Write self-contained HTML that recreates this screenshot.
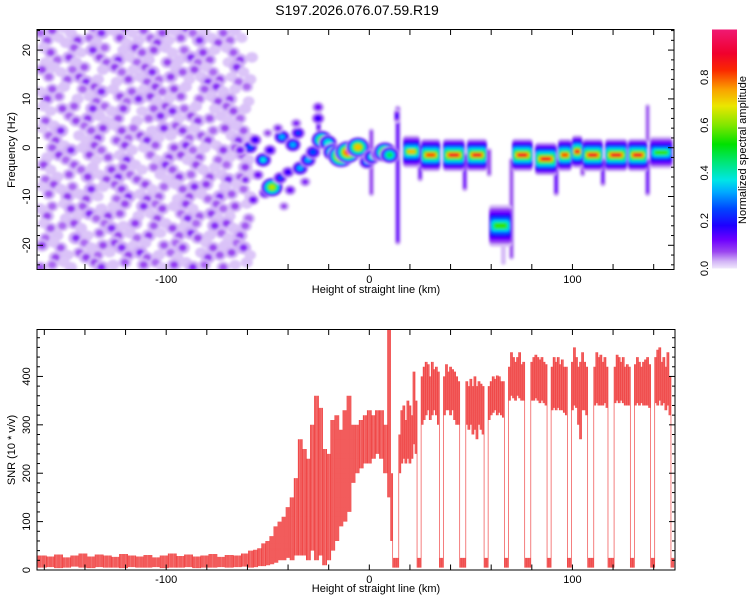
<!DOCTYPE html>
<html><head><meta charset="utf-8"><style>
html,body{margin:0;padding:0;background:#fff;}
svg{display:block;font-family:"Liberation Sans",sans-serif;}
</style></head><body>
<svg id="fig" width="750" height="600" viewBox="0 0 750 600" xmlns="http://www.w3.org/2000/svg">
<defs>
<filter id="soft" x="-20%" y="-20%" width="140%" height="140%"><feGaussianBlur stdDeviation="1.2"/></filter>
<filter id="soft2" x="-20%" y="-20%" width="140%" height="140%"><feGaussianBlur stdDeviation="1.4"/></filter>
<clipPath id="clipTop"><rect x="37" y="29.5" width="637" height="240"/></clipPath>
<clipPath id="clipBot"><rect x="37" y="329.5" width="638" height="240.5"/></clipPath>
<linearGradient id="cbGrad" x1="0" y1="1" x2="0" y2="0"></linearGradient>
</defs>
<rect x="0" y="0" width="750" height="600" fill="#fff"/>
<text x="357" y="15" font-size="14" text-anchor="middle">S197.2026.076.07.59.R19</text>
<g id="topPlot">
  <g id="heat" clip-path="url(#clipTop)"></g>
  <rect x="37" y="29.5" width="637" height="240" fill="none" stroke="#000" stroke-width="1"/>
  <g id="topAxes"></g>
  <text x="376" y="293" font-size="11" text-anchor="middle">Height of straight line (km)</text>
  <text transform="translate(15,150) rotate(-90)" font-size="11" text-anchor="middle">Frequency (Hz)</text>
</g>
<g id="colorbar">
  <rect x="712" y="29.5" width="25" height="239" fill="url(#cbGrad)"/>
  <g id="cbTicks"></g>
  <text transform="translate(746,150) rotate(-90)" font-size="11" text-anchor="middle">Normalized spectral amplitude</text>
</g>
<g id="botPlot">
  <g clip-path="url(#clipBot)"><path id="snrLine" fill="none" stroke="#ee3535" stroke-width="0.7" stroke-opacity="0.9"/></g>
  <rect x="37" y="329.5" width="638" height="240.5" fill="none" stroke="#000" stroke-width="1"/>
  <g id="botAxes"></g>
  <text x="376" y="592" font-size="11" text-anchor="middle">Height of straight line (km)</text>
  <text transform="translate(15,450) rotate(-90)" font-size="11" text-anchor="middle">SNR (10 * v/v)</text>
</g>
</svg>
<script>
// ---------- data ----------
const xTickKm=[-160,-140,-120,-100,-80,-60,-40,-20,0,20,40,60,80,100,120,140];
const xTickLabels=["-100","0","100"];
const xTickLabelKm=[-100,0,100];
const freqTickLabels=["20","10","0","-10","-20"];
const freqTickVals=[20,10,0,-10,-20];
const snrTickLabels=["0","100","200","300","400"];
const snrTickVals=[0,100,200,300,400];
const cbTickLabels=["0.0","0.2","0.4","0.6","0.8"];
const cbTickVals=[0,0.2,0.4,0.6,0.8];

// noise field (left region), rows = frequency 24..-24 step 2, cols = km step 5 from -161.1
const noiseRows=[
"351205723140526310420","412632051236140725310","250417302645213061240","136205471320527340162",
"521340263157024513071","304672015243601275132","142035720416352047213","630214053762140325601",
"215407326014573201452","403562140237015642130","127034615302746103524","350216043571203460271",
"041725306214057321640","263051427031652403152","510432065213740521306","324061573402163052741",
"152307246051324760213","406251037264015237402","231640215073526104351","502173640215037462103",
"143520371604251307624","320714052361047523160","614032567120436015237","052463105742310264501",
"431205724053162730412"];

// discrete blobs (km, Hz, amplitude)
const blobKm  =[-57.2,-51.3,-47.9,-43.9,-40,-34.1,-30.2,-27.7,-23.3,-20.3,-17.9,-13.9,-10.5,-5.6,-1.1,1.3,4.5,7.7,10,-58.7,-56.2,-52.3,-48.9,-43,-37.6,-35.1,-25.2,-25.2,-61,-54.8,-63.6,-39,-31.6,-45,-36,-50,-42];
const blobFreq=[-10.7,-9.3,-8.1,-6.2,-5,-4.2,-2.5,-0.9,1.6,1.0,-0.9,-1.7,-0.9,0.1,-2.9,-1.9,-1.4,-0.9,-1.5,0.1,1.6,-2.5,-0.5,2.2,0.6,3,8.3,6,-6.6,-5.6,-0.5,-8.7,-7,4,5,3,-12];
const blobAmp =[0.15,0.2,0.65,0.25,0.2,0.35,0.35,0.3,0.62,0.45,0.55,0.88,0.85,0.72,0.35,0.4,0.3,0.7,0.5,0.3,0.2,0.38,0.2,0.35,0.35,0.25,0.15,0.2,0.12,0.15,0.15,0.15,0.12,0.12,0.12,0.1,0.1];

// ridge segments
const segStart=[16.5,25.4,36.2,48,58.9,70.2,81.5,92.8,99.7,105,116,127.3,138];
const segEnd  =[25,35,47,58,70.2,80.5,92.3,99.7,105,115,127,137,149.4];
const segFreq =[-0.8,-1.5,-1.5,-1.5,-16,-1.5,-2.3,-1.5,-0.8,-1.5,-1.5,-1.5,-1];
const segPeak =[0.72,0.85,0.9,0.88,0.6,0.9,0.9,0.85,0.9,0.9,0.9,0.9,0.6];

// vertical streaks
const streakKm =[14,13.6,25,47,59,70,92,105,115,137,137,1,-25,66];
const streakTop=[8.7,8,1,-1,0,-2,-2,0,-2,-2,9,4,9,-19];
const streakBot=[-20,5,-7,-9,-6,-23,-10,-6,-8,-10,1,-10,3,-24];
const streakAmp=[0.14,0.22,0.12,0.12,0.1,0.09,0.14,0.1,0.12,0.12,0.08,0.1,0.15,0.06];

// SNR bins
const snrKm=[-161,-157,-153,-149,-145,-141,-137,-133,-129,-125,-121,-117,-113,-109,-105,-101,-97,-93,-89,-85,-81,-77,-73,-69,-65,-61,
-58,-56,-54,-52,-50,-48,-46,-44,-42,-40,-38,-36,-34,-32,-30,-28,-26,-24,-22,-20,-18,-16,-14,-12,-10,-8,-6,-4,-2,0,2,4,6,8,
10,11,12,13,14,15,16,17,18,19,20,21,22,23,24,25,26,27,28,29,30,31,32,33,34,35,36,37,38,39,40,41,42,43,44,45,46,47,48,49,50,51,52,53,54,55,56,57,58,59,60,61,62,63,64,65,66,67,68,69,70,71,72,73,74,75,76,77,78,79,80,81,82,83,84,85,86,87,88,89,90,91,92,93,94,95,96,97,98,99,100,101,102,103,104,105,106,107,108,109,110,111,112,113,114,115,116,117,118,119,120,121,122,123,124,125,126,127,128,129,130,131,132,133,134,135,136,137,138,139,140,141,142,143,144,145,146,147,148,149];
const snrHi=[30,28,32,26,30,34,28,32,30,27,33,30,28,31,26,30,34,29,32,28,30,33,27,31,30,34,
40,42,45,55,60,70,90,100,110,130,150,190,270,250,230,300,360,335,250,240,310,320,290,330,360,300,300,310,320,330,320,330,330,300,
497,200,25,25,25,280,330,340,310,350,340,320,410,350,25,25,400,420,430,425,400,430,415,420,410,25,25,400,425,410,420,415,410,400,390,25,25,25,390,380,395,380,400,380,390,385,380,25,25,380,390,400,395,402,400,390,390,25,25,420,450,440,430,440,450,425,430,25,25,25,430,440,445,440,435,440,430,425,25,25,420,440,430,440,425,435,420,420,25,25,430,460,440,420,430,450,430,420,25,25,25,420,450,440,445,430,440,420,25,25,25,420,445,440,430,440,420,425,420,25,25,425,440,430,420,430,435,440,425,25,25,440,455,460,430,440,420,450,400,25];
const snrLo=[5,6,4,5,7,5,4,6,5,5,4,6,5,5,6,4,5,5,6,4,5,5,6,5,6,7,
5,6,8,8,10,12,15,20,20,25,20,30,30,30,20,40,20,30,10,20,40,60,90,100,120,180,200,210,220,220,230,240,230,200,
150,60,5,5,5,200,220,230,220,230,220,230,260,240,5,5,300,310,320,330,310,320,330,320,300,5,5,320,330,330,320,330,310,300,300,5,5,5,300,290,300,280,290,270,300,290,280,5,5,310,320,325,330,320,325,320,315,5,5,350,360,355,350,360,355,350,350,5,5,5,350,350,355,350,345,350,345,340,5,5,330,335,330,335,330,330,325,320,5,5,330,340,335,300,270,330,330,320,5,5,5,340,345,340,340,340,345,335,5,5,5,345,350,345,350,345,340,340,340,5,5,340,345,340,345,340,340,340,335,5,5,345,340,350,340,345,330,340,320,5];

// ---------- scales ----------
const NS="http://www.w3.org/2000/svg";
const kmMin=-163.6,kmMax=150,px0=37,px1=674;
function xS(k){return px0+(k-kmMin)*(px1-px0)/(kmMax-kmMin);}
const fMin=-24.96,fMax=24.22;
function yT(f){return 269.5-(f-fMin)*240/(fMax-fMin);}
const vMax=497;
function yB(v){return 570-v*240.5/vMax;}
const kmPx=(px1-px0)/(kmMax-kmMin), hzPx=240/(fMax-fMin);

const stops=[[0,240,232,252],[0.03,210,180,246],[0.07,155,70,240],[0.12,110,0,255],[0.18,30,0,255],[0.25,0,70,255],[0.32,0,170,255],[0.37,0,230,230],[0.45,0,230,110],[0.52,0,225,0],[0.6,130,230,0],[0.68,235,230,0],[0.75,250,160,0],[0.83,250,40,0],[0.9,240,0,45],[1,240,25,115]];
function cmap(v){v=Math.max(0,Math.min(1,v));for(let i=1;i<stops.length;i++){if(v<=stops[i][0]){const a=stops[i-1],b=stops[i],t=(v-a[0])/(b[0]-a[0]);return "rgb("+[1,2,3].map(j=>Math.round(a[j]+(b[j]-a[j])*t)).join(",")+")";}}return "rgb(240,25,115)";}

function mk(tag,attrs,parent){const e=document.createElementNS(NS,tag);for(const k in attrs)e.setAttribute(k,attrs[k]);parent.appendChild(e);return e;}

const grad=document.getElementById('cbGrad');
stops.forEach(s=>{mk('stop',{offset:s[0],'stop-color':cmap(s[0])},grad);});

const heat=document.getElementById('heat');
const gNoise=mk('g',{filter:'url(#soft2)'},heat);


noiseRows.forEach((row,r)=>{
  for(let c=0;c<row.length;c++){
    const d=+row[c]; if(!d) continue;
    const cx=xS(-161.1+5*c+(r%2?2.5:0)+((c+r)%3-1)*0.8), cy=yT(24-2*r+((c*7+r)%3-1)*0.5);
    const e=mk('ellipse',{cx:cx,cy:cy,rx:5.5+d*0.3,ry:4.8+d*0.25,fill:cmap(0.018+d*0.002)},gNoise);
    
    
    if(d>=3){const e2=mk('ellipse',{cx:cx,cy:cy,rx:4,ry:3.6,fill:cmap(0.04+d*0.006)},gNoise);
      
      }
    if(d>=6){const e3=mk('ellipse',{cx:cx,cy:cy,rx:3,ry:2.8,fill:cmap(d*0.013)},gNoise);
      
      }
  }
});
const levels=[0.025,0.07,0.12,0.18,0.25,0.32,0.38,0.46,0.55,0.64,0.72,0.8,0.88];
const gSig=mk('g',{filter:'url(#soft)'},heat);


streakKm.forEach((k,i)=>{
  const top=yT(streakTop[i]), bot=yT(streakBot[i]);
  levels.filter(l=>l<=streakAmp[i]).forEach((l,j)=>{
    const w=7*(1-0.7*l/streakAmp[i]);
    const r=mk('rect',{x:xS(k)-w/2,y:top+j*2,width:w,height:Math.max(1,bot-top-j*4),rx:w/2,fill:cmap(l)},gSig);
    
    
  });
});
segStart.forEach((s,i)=>{
  const p=segPeak[i], len=segEnd[i]-s;
  levels.filter(l=>l<=p).forEach(l=>{
    const q=l/p, hh=(0.4+3.2*Math.pow(1-q,2.2))*hzPx*(segFreq[i]<-10?1.3:1);
    const inset=len*0.3*Math.pow(q,2)*kmPx;
    const x0=xS(s)+inset, x1=xS(segEnd[i])-inset;
    const r=mk('rect',{x:x0,y:yT(segFreq[i])-hh,width:Math.max(1,x1-x0),height:2*hh,rx:Math.min(hh,3),fill:cmap(l)},gSig);
    
    
  });
});
blobKm.forEach((k,i)=>{
  const a=blobAmp[i], base=5+8*a;
  levels.filter(l=>l<=a).forEach(l=>{
    const q=l/a, r=base*(1-0.75*q);
    const e=mk('ellipse',{cx:xS(k),cy:yT(blobFreq[i]),rx:r*1.15,ry:r,fill:cmap(l)},gSig);
    
    
  });
});

// axes
const topAxes=document.getElementById('topAxes');
function botAxes(){return document.getElementById('botAxes');}
function line(p,x1,y1,x2,y2,name){const l=mk('line',{x1:x1,y1:y1,x2:x2,y2:y2,stroke:'#000','stroke-width':1},p);return l;}
function txt(p,x,y,s,anchor,rot,name){const t=mk('text',{x:0,y:0,'font-size':11,'text-anchor':anchor,transform:'translate('+x+','+y+')'+(rot?' rotate(-90)':'')},p);t.textContent=s;return t;}
xTickKm.forEach(k=>{const x=xS(k);line(topAxes,x,29.5,x,35,'x-tick');line(topAxes,x,269.5,x,264,'x-tick');line(botAxes(),x,329.5,x,335,'x-tick');line(botAxes(),x,570,x,564.5,'x-tick');});
xTickLabelKm.forEach((k,i)=>{txt(topAxes,xS(k),283,xTickLabels[i],'middle',false,'x-tick-label');txt(botAxes(),xS(k),583,xTickLabels[i],'middle',false,'x-tick-label');});
for(let f=-24;f<=24;f+=2){const y=yT(f),L=(f%10===0)?6:3;line(topAxes,37,y,37+L,y,'y-tick');line(topAxes,674,y,674-L,y,'y-tick');}
freqTickVals.forEach((f,i)=>txt(topAxes,30,yT(f),freqTickLabels[i],'middle',true,'y-tick-label'));
for(let v=0;v<=480;v+=20){const y=yB(v),L=(v%100===0)?6:3;line(botAxes(),37,y,37+L,y,'y-tick');line(botAxes(),675,y,675-L,y,'y-tick');}
snrTickVals.forEach((v,i)=>txt(botAxes(),30,yB(v),snrTickLabels[i],'middle',true,'y-tick-label'));
const cbT=document.getElementById('cbTicks');
cbTickVals.forEach((v,i)=>{const y=268.5-v*239;txt(cbT,708,y,cbTickLabels[i],'middle',true,'colorbar-tick-label');});

// SNR line: dense vertical strokes per bin + connectors between bins
let d="";
for(let i=0;i<snrKm.length;i++){
  const a=i>0?(snrKm[i-1]+snrKm[i])/2:kmMin, b=i<snrKm.length-1?(snrKm[i]+snrKm[i+1])/2:kmMax;
  const xa=xS(a), xb=xS(b);
  if(i>0){const top=Math.max(snrHi[i],snrHi[i-1]), bot=Math.min(snrLo[i],snrLo[i-1]);d+="M"+xa.toFixed(2)+","+yB(top).toFixed(1)+"V"+yB(bot).toFixed(1);}
  for(let x=xa+0.5;x<xb;x+=0.8){d+="M"+x.toFixed(2)+","+yB(snrHi[i]).toFixed(1)+"V"+yB(snrLo[i]).toFixed(1);}
}
document.getElementById('snrLine').setAttribute('d',d);
</script>
</body></html>
